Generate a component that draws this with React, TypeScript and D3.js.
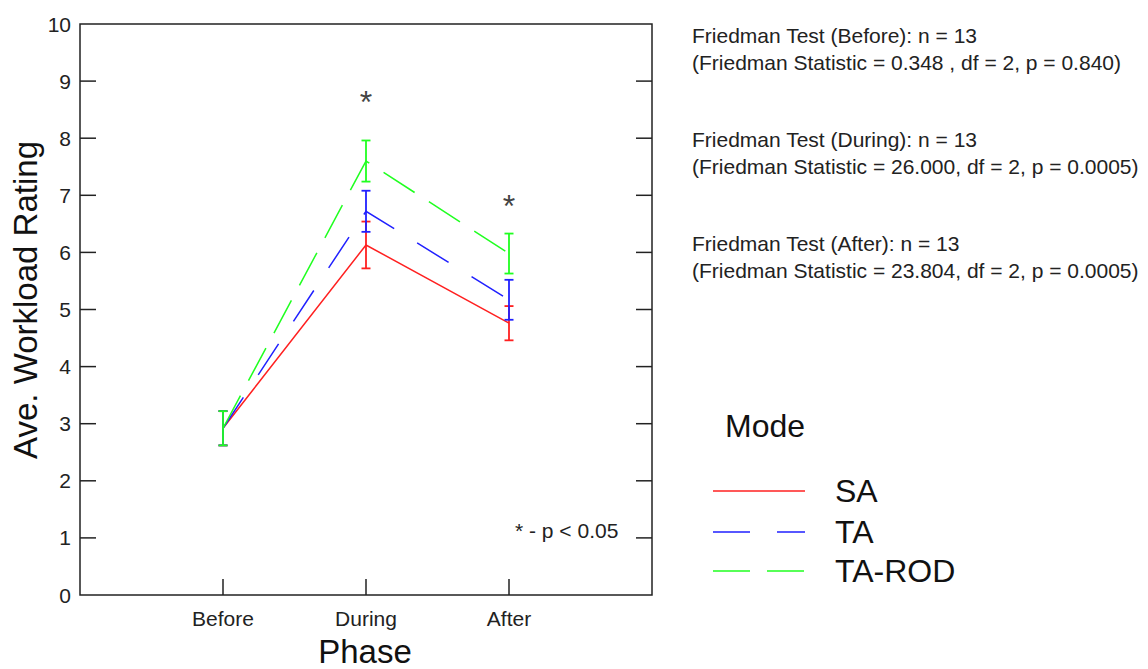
import React from "react";
import * as d3 from "d3";

const phases = ["Before", "During", "After"];
const seriesNames = ["SA", "TA", "TA-ROD"];
const saMeans = [2.92, 6.13, 4.76];
const saErr = [0.3, 0.41, 0.3];
const taMeans = [2.92, 6.72, 5.17];
const taErr = [0.3, 0.36, 0.35];
const rodMeans = [2.92, 7.6, 5.98];
const rodErr = [0.3, 0.36, 0.35];
const yTicks = [0, 1, 2, 3, 4, 5, 6, 7, 8, 9, 10];
const sigMarks = [
  { phase: "During", value: 8.76 },
  { phase: "After", value: 6.95 },
];
const statLines = [
  "Friedman Test (Before): n = 13",
  "(Friedman Statistic = 0.348 , df = 2, p = 0.840)",
  "Friedman Test (During): n = 13",
  "(Friedman Statistic = 26.000, df = 2, p = 0.0005)",
  "Friedman Test (After): n = 13",
  "(Friedman Statistic = 23.804, df = 2, p = 0.0005)",
];

const FONT = "'Liberation Sans', Arial, Helvetica, sans-serif";

export default function App() {
  const W = 1148, H = 669;
  const left = 80, right = 652, top = 24, bottom = 595;
  const x = d3.scaleLinear().domain([0, 4]).range([left, right]);
  const y = d3.scaleLinear().domain([0, 10]).range([bottom, top]);
  const xPos = (p: string) => x(phases.indexOf(p) + 1);

  const series = [
    { name: seriesNames[0], means: saMeans, err: saErr, color: "#ff2020", dash: "none" },
    { name: seriesNames[1], means: taMeans, err: taErr, color: "#2020ff", dash: "37,27" },
    { name: seriesNames[2], means: rodMeans, err: rodErr, color: "#20ff20", dash: "37,17" },
  ];
  const line = d3
    .line<number>()
    .x((_, i) => x(i + 1))
    .y((d) => y(d));

  const axisColor = "#222";
  const tickLen = 16;
  const cap = 4.5;

  return (
    <svg
      width={W}
      height={H}
      style={{ position: "absolute", left: 0, top: 0, background: "#fff" }}
      fontFamily={FONT}
    >
      {/* frame */}
      <rect x={left} y={top} width={right - left} height={bottom - top} fill="none" stroke={axisColor} strokeWidth={1.5} />
      {/* y ticks */}
      {yTicks.map((t) => (
        <g key={"y" + t}>
          {t > 0 && t < 10 && (
            <>
              <line x1={left} x2={left + tickLen} y1={y(t)} y2={y(t)} stroke={axisColor} strokeWidth={1.5} />
              <line x1={right} x2={right - tickLen} y1={y(t)} y2={y(t)} stroke={axisColor} strokeWidth={1.5} />
            </>
          )}
          <text x={71} y={y(t)} dy="0.36em" textAnchor="end" fontSize={21} fill="#222">
            {t}
          </text>
        </g>
      ))}
      {/* x ticks */}
      {phases.map((p) => (
        <g key={p}>
          <line x1={xPos(p)} x2={xPos(p)} y1={bottom} y2={bottom - tickLen} stroke={axisColor} strokeWidth={1.5} />
          <text x={xPos(p)} y={626} textAnchor="middle" fontSize={21} fill="#222">
            {p}
          </text>
        </g>
      ))}
      {/* axis titles */}
      <text x={365} y={663} textAnchor="middle" fontSize={33} fill="#111">
        Phase
      </text>
      <text transform={`translate(37,${300}) rotate(-90)`} textAnchor="middle" fontSize={33} fill="#111">
        Ave. Workload Rating
      </text>
      {/* series */}
      {series.map((s) => (
        <g key={s.name}>
          <path d={line(s.means) || ""} fill="none" stroke={s.color} strokeWidth={1.5} strokeDasharray={s.dash} />
          {s.means.map((m, i) => {
            const cx = x(i + 1);
            const y1 = y(m + s.err[i]);
            const y2 = y(m - s.err[i]);
            return (
              <g key={i} stroke={s.color} strokeWidth={1.8}>
                <line x1={cx} x2={cx} y1={y1} y2={y2} />
                <line x1={cx - cap} x2={cx + cap} y1={y1} y2={y1} />
                <line x1={cx - cap} x2={cx + cap} y1={y2} y2={y2} />
              </g>
            );
          })}
        </g>
      ))}
      {/* significance marks */}
      {sigMarks.map((s) => (
        <text key={s.phase} x={xPos(s.phase)} y={y(s.value)} dy="0.58em" textAnchor="middle" fontSize={32} fill="#444">
          *
        </text>
      ))}
      <text x={515} y={538} fontSize={21} fill="#222">
        * - p &lt; 0.05
      </text>
      {/* stats text */}
      {statLines.map((l, i) => (
        <text key={i} x={692} y={43 + Math.floor(i / 2) * 104 + (i % 2) * 26.5} fontSize={21} fill="#222">
          {l}
        </text>
      ))}
      {/* legend */}
      <text x={725} y={437} fontSize={32} fill="#111">
        Mode
      </text>
      {series.map((s, i) => {
        const ly = [491, 532, 571][i];
        return (
          <g key={"lg" + s.name}>
            <line x1={713} x2={805} y1={ly} y2={ly} stroke={s.color} strokeWidth={1.5} strokeDasharray={s.dash} />
            <text x={835} y={ly + 11} fontSize={32} fill="#111">
              {s.name}
            </text>
          </g>
        );
      })}
    </svg>
  );
}
